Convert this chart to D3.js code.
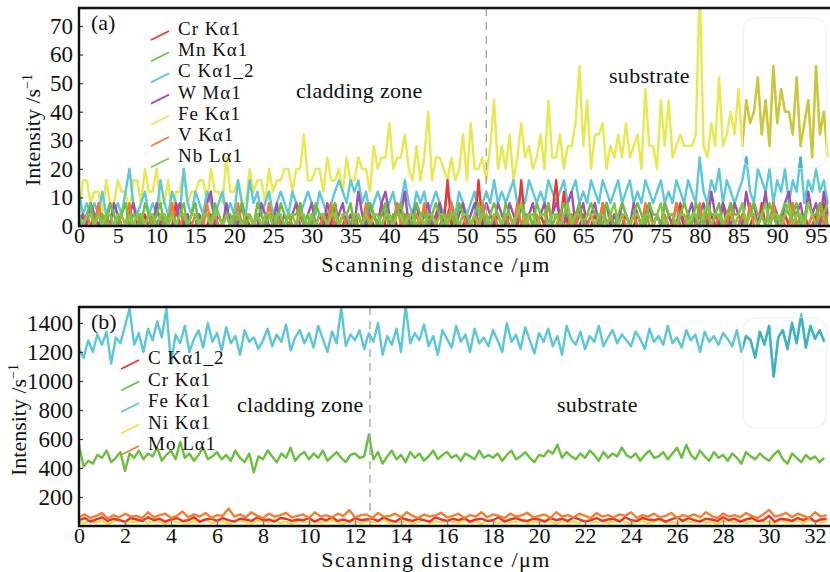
<!DOCTYPE html>
<html>
<head>
<meta charset="utf-8">
<script src="https://cdn.jsdelivr.net/npm/d3@7"></script>
<style>
  body { margin: 0; background: #fff; }
  text { font-family: "Liberation Serif", "DejaVu Serif", serif; fill: #111; }
</style>
</head>
<body>
<svg id="chart" width="830" height="572"></svg>
<script>

/* DATA - panel (a), one value every 0.5 um from 0 */
const feA = [
  4, 16, 16, 8, 12, 12, 4, 16, 8, 8,
  16, 12, 12, 4, 16, 16, 8, 20, 12, 12,
  20, 8, 8, 16, 4, 12, 12, 20, 8, 12,
  12, 16, 16, 8, 20, 12, 12, 8, 24, 12,
  12, 16, 8, 8, 20, 12, 16, 16, 8, 20,
  12, 16, 16, 20, 20, 12, 20, 20, 32, 16,
  16, 20, 20, 12, 24, 16, 16, 20, 12, 24,
  16, 16, 24, 20, 20, 12, 28, 20, 24, 24,
  36, 20, 24, 24, 32, 20, 16, 28, 16, 24,
  40, 16, 24, 24, 20, 16, 24, 16, 20, 32,
  16, 36, 20, 20, 24, 16, 28, 44, 20, 28,
  20, 32, 16, 24, 36, 24, 28, 20, 24, 32,
  20, 44, 24, 24, 32, 20, 28, 28, 36, 56,
  28, 44, 20, 32, 32, 36, 20, 28, 24, 32,
  24, 36, 24, 28, 32, 20, 48, 28, 28, 20,
  44, 28, 44, 24, 28, 32, 28, 28, 28, 32,
  84, 28, 24, 36, 28, 52, 28, 32, 40, 32,
  48, 28, 44, 36, 40, 52, 32, 44, 28, 56,
  36, 48, 40, 40, 32, 52, 28, 36, 44, 24,
  56, 32, 40, 24
];
const cA = [
  12, 4, 8, 4, 8, 4, 12, 4, 8, 4,
  8, 4, 12, 20, 8, 4, 8, 12, 4, 8,
  4, 16, 8, 4, 12, 8, 4, 20, 8, 4,
  12, 8, 4, 12, 8, 4, 8, 12, 4, 8,
  4, 16, 8, 4, 16, 8, 12, 4, 8, 12,
  4, 8, 12, 8, 4, 12, 8, 4, 8, 12,
  8, 4, 12, 8, 4, 8, 12, 16, 12, 8,
  16, 12, 16, 8, 12, 4, 8, 12, 8, 4,
  8, 12, 4, 8, 16, 8, 4, 12, 8, 12,
  4, 8, 12, 8, 4, 12, 8, 4, 12, 8,
  4, 8, 12, 4, 8, 12, 8, 16, 8, 12,
  8, 12, 16, 8, 12, 8, 16, 12, 8, 12,
  8, 16, 12, 8, 12, 16, 8, 12, 16, 8,
  12, 8, 16, 12, 8, 16, 12, 8, 12, 16,
  8, 12, 16, 8, 12, 8, 16, 12, 8, 12,
  16, 8, 12, 8, 16, 12, 8, 16, 12, 8,
  24, 12, 8, 16, 12, 20, 8, 16, 12, 8,
  12, 16, 24, 12, 8, 20, 16, 12, 20, 8,
  16, 12, 20, 8, 16, 12, 24, 8, 16, 12,
  20, 12, 16, 8
];
const crA = [
  0, 4, 0, 0, 4, 0, 0, 4, 0, 0,
  4, 0, 0, 4, 0, 0, 0, 4, 0, 4,
  0, 0, 4, 0, 0, 8, 0, 0, 4, 0,
  0, 4, 0, 0, 4, 0, 0, 0, 4, 0,
  4, 0, 0, 4, 0, 0, 4, 0, 0, 0,
  0, 4, 0, 0, 4, 0, 0, 4, 0, 0,
  4, 0, 0, 0, 4, 0, 8, 0, 0, 4,
  0, 0, 4, 0, 0, 4, 0, 0, 8, 0,
  0, 4, 0, 0, 4, 0, 0, 4, 0, 0,
  4, 0, 0, 8, 0, 16, 0, 4, 0, 0,
  4, 0, 0, 16, 0, 4, 0, 0, 4, 0,
  0, 4, 0, 0, 16, 0, 4, 0, 0, 4,
  0, 0, 4, 16, 0, 12, 0, 4, 0, 0,
  4, 0, 0, 4, 0, 8, 0, 0, 4, 0,
  0, 4, 0, 0, 4, 0, 0, 8, 0, 4,
  0, 0, 4, 0, 0, 8, 0, 4, 0, 0,
  4, 0, 0, 4, 0, 0, 8, 0, 4, 0,
  0, 4, 0, 0, 4, 0, 8, 0, 0, 4,
  0, 0, 4, 0, 8, 0, 0, 4, 0, 0,
  4, 0, 8, 0
];
const mnA = [
  4, 0, 4, 8, 0, 4, 4, 0, 8, 4,
  0, 4, 8, 0, 4, 4, 0, 8, 4, 0,
  4, 8, 0, 4, 4, 0, 4, 8, 0, 4,
  8, 0, 4, 4, 0, 8, 4, 0, 4, 4,
  0, 4, 8, 0, 4, 0, 8, 4, 0, 4,
  4, 0, 8, 4, 0, 4, 4, 8, 0, 4,
  0, 8, 4, 4, 0, 4, 8, 0, 4, 4,
  8, 0, 4, 0, 4, 8, 4, 0, 4, 8,
  0, 4, 4, 8, 0, 4, 0, 8, 4, 4,
  0, 4, 8, 4, 0, 4, 4, 0, 8, 4,
  4, 0, 4, 8, 4, 0, 4, 8, 4, 0,
  8, 4, 0, 4, 8, 4, 4, 0, 8, 4,
  4, 8, 0, 4, 4, 8, 4, 0, 4, 8,
  0, 4, 8, 4, 4, 0, 8, 4, 0, 4,
  8, 4, 0, 4, 8, 4, 0, 8, 4, 4,
  0, 8, 4, 4, 0, 4, 8, 4, 0, 8,
  4, 0, 8, 4, 4, 8, 0, 4, 8, 4,
  4, 8, 0, 4, 8, 4, 4, 0, 8, 4,
  0, 4, 8, 4, 4, 8, 0, 4, 8, 4,
  4, 8, 4, 0
];
const wA = [
  0, 4, 0, 8, 4, 0, 4, 0, 0, 8,
  4, 0, 0, 4, 8, 0, 4, 0, 4, 0,
  8, 0, 4, 0, 0, 4, 8, 0, 4, 0,
  0, 4, 0, 8, 12, 0, 4, 0, 8, 0,
  4, 0, 8, 0, 4, 0, 0, 8, 4, 0,
  0, 8, 0, 4, 0, 4, 8, 0, 0, 4,
  8, 0, 4, 0, 8, 4, 0, 4, 8, 0,
  4, 0, 12, 4, 0, 8, 4, 0, 8, 12,
  4, 0, 8, 4, 12, 0, 4, 8, 0, 4,
  8, 0, 4, 8, 0, 4, 8, 0, 4, 8,
  0, 4, 8, 0, 4, 8, 4, 0, 8, 4,
  0, 8, 4, 0, 8, 0, 4, 8, 0, 4,
  8, 0, 4, 8, 4, 0, 8, 12, 0, 4,
  8, 0, 4, 8, 0, 4, 8, 0, 4, 0,
  8, 4, 0, 8, 4, 0, 4, 8, 0, 4,
  0, 8, 4, 0, 8, 4, 0, 4, 8, 0,
  4, 8, 0, 12, 4, 0, 8, 4, 0, 8,
  4, 0, 12, 4, 8, 0, 4, 12, 0, 8,
  4, 0, 8, 12, 0, 4, 8, 0, 12, 4,
  8, 0, 12, 4
];
const vA = [
  0, 0, 4, 0, 0, 8, 0, 4, 0, 0,
  4, 0, 0, 8, 0, 0, 4, 0, 0, 4,
  0, 4, 0, 0, 8, 0, 0, 4, 0, 0,
  4, 0, 0, 8, 0, 4, 0, 0, 4, 0,
  0, 8, 0, 0, 4, 0, 4, 0, 0, 8,
  0, 4, 0, 0, 4, 0, 0, 8, 0, 0,
  4, 0, 0, 4, 0, 8, 0, 0, 4, 0,
  0, 4, 0, 0, 8, 0, 4, 0, 0, 4,
  0, 0, 8, 0, 4, 0, 0, 4, 0, 8,
  0, 4, 0, 0, 4, 0, 8, 0, 0, 4,
  0, 0, 4, 0, 8, 0, 0, 4, 0, 0,
  4, 0, 0, 8, 0, 4, 0, 0, 4, 0,
  0, 8, 0, 0, 4, 0, 0, 4, 0, 8,
  0, 0, 4, 0, 0, 8, 0, 4, 0, 0,
  4, 0, 0, 4, 0, 0, 8, 0, 0, 4,
  0, 4, 0, 0, 8, 0, 0, 4, 0, 0,
  8, 0, 4, 0, 0, 4, 0, 0, 8, 0,
  0, 4, 0, 8, 0, 0, 4, 0, 0, 8,
  0, 4, 0, 0, 8, 0, 4, 0, 0, 4,
  0, 8, 0, 4
];
const nbA = [
  4, 0, 4, 4, 0, 4, 0, 4, 4, 0,
  4, 4, 0, 4, 0, 4, 4, 0, 4, 4,
  0, 4, 4, 0, 4, 0, 4, 4, 0, 4,
  4, 0, 4, 4, 0, 4, 4, 0, 4, 0,
  4, 4, 0, 4, 4, 0, 4, 0, 4, 4,
  0, 4, 4, 0, 4, 4, 0, 4, 4, 0,
  4, 0, 4, 4, 0, 4, 4, 0, 4, 4,
  0, 4, 4, 0, 4, 0, 4, 4, 0, 4,
  4, 0, 4, 4, 0, 4, 4, 0, 4, 0,
  4, 4, 0, 4, 4, 0, 4, 4, 0, 4,
  4, 0, 4, 0, 4, 4, 0, 4, 4, 0,
  4, 4, 0, 4, 8, 0, 4, 4, 0, 4,
  4, 0, 4, 4, 0, 4, 8, 0, 4, 4,
  0, 4, 4, 0, 4, 4, 0, 4, 8, 0,
  4, 4, 0, 4, 4, 0, 4, 4, 0, 4,
  8, 0, 4, 4, 0, 4, 4, 0, 4, 4,
  0, 4, 8, 0, 4, 4, 0, 4, 4, 0,
  4, 8, 0, 4, 4, 0, 4, 8, 0, 4,
  4, 0, 4, 8, 0, 4, 4, 0, 8, 4,
  0, 4, 4, 8
];

/* DATA - panel (b), Fe and Cr every 0.2 um, the minor lines every 0.25 um */
const feB = [
  1220, 1160, 1280, 1200, 1320, 1250, 1340, 1120, 1300, 1260,
  1380, 1500, 1250, 1330, 1200, 1360, 1280, 1410, 1300, 1500,
  1120, 1320, 1260, 1380, 1200, 1290, 1350, 1230, 1400, 1270,
  1330, 1210, 1370, 1260, 1310, 1180, 1350, 1270, 1300, 1220,
  1280, 1360, 1240, 1320, 1270, 1390, 1210, 1300, 1350, 1260,
  1330, 1230, 1380, 1290, 1200, 1340, 1260, 1500, 1240, 1320,
  1280, 1350, 1220, 1330, 1270, 1400, 1180, 1310, 1250, 1360,
  1200, 1520, 1260, 1330, 1280, 1390, 1240, 1310, 1180, 1350,
  1290, 1230, 1380, 1270, 1320, 1200, 1360, 1260, 1300, 1240,
  1350, 1280, 1200, 1400, 1270, 1320, 1220, 1370, 1280, 1190,
  1330, 1270, 1360, 1240, 1310, 1180, 1380, 1290, 1250, 1340,
  1220, 1310, 1270, 1380, 1240, 1300, 1350, 1260, 1320, 1280,
  1240, 1340, 1290, 1220, 1360, 1270, 1310, 1250, 1380, 1260,
  1300, 1230, 1350, 1280, 1320, 1200, 1340, 1270, 1310, 1250,
  1330, 1290, 1240, 1350, 1200, 1310, 1280, 1160, 1340, 1250,
  1380, 1030, 1300, 1350, 1220, 1400, 1260, 1460, 1230, 1380,
  1290, 1350, 1270
];
const crB = [
  560, 410, 450, 430, 490, 470, 520, 440, 470, 510,
  380, 500, 470, 520, 460, 500, 480, 540, 450, 490,
  520, 460, 580, 470, 500, 450, 490, 540, 460, 480,
  510, 460, 490, 450, 520, 470, 440, 500, 370, 480,
  460, 520, 480, 440, 500, 470, 540, 450, 490, 510,
  460, 500, 470, 520, 450, 480, 510, 470, 440, 490,
  500, 470, 480, 630, 460, 510, 430, 480, 520, 460,
  490, 440, 510, 470, 500, 450, 480, 520, 460, 490,
  510, 470, 490, 450, 500, 480, 460, 520, 470, 490,
  470, 500, 450, 490, 520, 460, 480, 510, 470, 440,
  490, 480, 520, 500, 560, 470, 510, 480, 460, 500,
  470, 520, 490, 450, 510, 470, 500, 480, 540, 490,
  470, 500, 450, 490, 520, 470, 480, 510, 460, 500,
  540, 470, 560, 490, 460, 520, 480, 450, 510, 470,
  490, 450, 500, 470, 430, 510, 480, 460, 500, 470,
  450, 490, 520, 460, 430, 500, 470, 440, 490, 460,
  480, 440, 470
];
const moB = [
  60, 80, 55, 70, 90, 50, 75, 60, 85, 65,
  70, 55, 95, 60, 75, 85, 55, 70, 100, 60,
  80, 65, 90, 55, 75, 70, 120, 65, 80, 60,
  95, 70, 55, 85, 65, 75, 90, 60, 70, 80,
  55, 95, 65, 75, 60, 85, 70, 110, 60, 75,
  80, 55, 90, 65, 70, 85, 60, 95, 70, 55,
  80, 65, 75, 90, 60, 70, 85, 55, 75, 65,
  95, 60, 80, 70, 55, 85, 65, 75, 90, 60,
  70, 80, 55, 95, 65, 75, 60, 85, 70, 55,
  90, 65, 75, 60, 80, 70, 95, 55, 75, 65,
  85, 60, 70, 90, 55, 75, 65, 80, 60, 95,
  70, 55, 85, 65, 75, 60, 90, 70, 55, 80,
  110, 65, 75, 90, 60, 85, 70, 55, 95, 65,
  75
];
const cB = [
  40, 55, 30, 45, 60, 35, 50, 40, 30, 55,
  45, 35, 60, 40, 50, 30, 45, 55, 35, 40,
  60, 30, 45, 50, 35, 55, 40, 30, 50, 45,
  35, 60, 40, 45, 30, 55, 50, 35, 45, 40,
  55, 30, 50, 40, 60, 35, 45, 30, 55, 40,
  45, 50, 35, 60, 40, 30, 55, 45, 35, 50,
  40, 30, 60, 45, 35, 50, 40, 55, 30, 45,
  50, 35, 40, 60, 30, 45, 55, 40, 35, 50,
  45, 30, 55, 40, 50, 35, 60, 45, 30, 40,
  55, 35, 45, 50, 30, 60, 40, 35, 55, 45,
  40, 50, 30, 45, 60, 35, 55, 40, 30, 50,
  45, 35, 60, 40, 50, 30, 45, 55, 35, 40,
  70, 30, 50, 45, 35, 55, 40, 60, 30, 45,
  50
];
const niB = [
  30, 20, 40, 25, 35, 15, 30, 45, 20, 30,
  25, 40, 20, 35, 30, 15, 40, 25, 30, 20,
  35, 25, 45, 20, 30, 35, 15, 30, 40, 25,
  20, 35, 30, 25, 45, 20, 30, 15, 35, 30,
  25, 40, 20, 30, 35, 25, 15, 40, 30, 20,
  35, 25, 30, 45, 20, 30, 25, 35, 15, 30,
  40, 20, 30, 25, 35, 30, 20, 45, 25, 30,
  15, 35, 30, 20, 40, 25, 30, 35, 20, 30,
  25, 45, 30, 15, 35, 25, 30, 20, 40, 30,
  25, 35, 20, 30, 45, 25, 15, 30, 35, 20,
  30, 40, 25, 30, 20, 35, 30, 25, 45, 20,
  30, 15, 35, 30, 25, 40, 20, 30, 35, 25,
  30, 20, 40, 25, 30, 35, 20, 45, 30, 25,
  30
];

// tick values
const xTicksA = d3.range(0, 96, 5);
const yTicksA = [0, 10, 20, 30, 40, 50, 60, 70];
const xTicksB = d3.range(0, 33, 2);
const yTicksB = [200, 400, 600, 800, 1000, 1200, 1400];

// x positions for each series
const xsA = feA.map((d, i) => i * 0.5);
const xsB = feB.map((d, i) => i * 0.2);
const xsBminor = moB.map((d, i) => i * 0.25);

const svg = d3.select("#chart");
const LEFT = 79, RIGHT = 830;
const SERIF = '"Liberation Serif", serif';

function drawPanel(p) {

    const x = d3.scaleLinear().domain(p.xDomain).range([LEFT, RIGHT]);
    const y = d3.scaleLinear().domain(p.yDomain).range([p.bottom, p.top]);
    const g = svg.append("g");

    // clip paths for plot area and the pale box
    const defs = g.append("defs");
    defs.append("clipPath").attr("id", p.id + "-clip")
        .append("rect")
        .attr("x", LEFT).attr("y", p.top)
        .attr("width", RIGHT - LEFT).attr("height", p.bottom - p.top);
    defs.append("clipPath").attr("id", p.id + "-box")
        .append("rect")
        .attr("x", p.box[0]).attr("y", p.box[1])
        .attr("width", p.box[2]).attr("height", p.box[3])
        .attr("rx", 12);

    const line = s => d3.line()
        .x((d, i) => x(s.xs[i]))
        .y(d => y(d));

    // LINES
    const lines = g.append("g").attr("clip-path", `url(#${p.id}-clip)`);
    p.drawOrder.forEach(s => {
        lines.append("path")
            .datum(s.values)
            .attr("d", line(s))
            .attr("fill", "none")
            .attr("stroke", s.color)
            .attr("stroke-width", 2.4)
            .attr("stroke-linejoin", "round");
    });

    // pale box (lines look darker behind it)
    g.append("rect")
        .attr("x", p.box[0]).attr("y", p.box[1])
        .attr("width", p.box[2]).attr("height", p.box[3])
        .attr("rx", 12)
        .attr("fill", "#fff").attr("fill-opacity", 0.25)
        .attr("stroke", "#f1f1f1").attr("stroke-width", 1.2);

    const boxLines = g.append("g").attr("clip-path", `url(#${p.id}-box)`);
    p.drawOrder.filter(s => s.dark).forEach(s => {
        boxLines.append("path")
            .datum(s.values)
            .attr("d", line(s))
            .attr("fill", "none")
            .attr("stroke", s.dark)
            .attr("stroke-width", 2.4)
            .attr("stroke-linejoin", "round");
    });

    // zone boundary
    g.append("line")
        .attr("x1", x(p.boundary)).attr("x2", x(p.boundary))
        .attr("y1", p.top).attr("y2", p.bottom)
        .attr("stroke", "#a8a8a8")
        .attr("stroke-width", 1.4)
        .attr("stroke-dasharray", "8,6");

    // AXES
    const xAxis = g.append("g")
        .attr("transform", `translate(0, ${p.bottom})`)
        .call(d3.axisBottom(x).tickValues(p.xTicks).tickSize(-6).tickPadding(1));
    xAxis.select(".domain").remove();
    xAxis.selectAll("line").attr("stroke", "#888").attr("stroke-width", 1.5);
    xAxis.selectAll("text").style("font-size", "22px").attr("fill", "#111")
        .style("font-family", SERIF);

    const yAxis = g.append("g")
        .attr("transform", `translate(${LEFT}, 0)`)
        .call(d3.axisLeft(y).tickValues(p.yTicks).tickFormat(d3.format("d"))
            .tickSize(-4).tickPadding(6));
    yAxis.select(".domain").remove();
    yAxis.selectAll("line").attr("stroke", "#333").attr("stroke-width", 1.2);
    yAxis.selectAll("text").style("font-size", "23px").attr("fill", "#111")
        .style("font-family", SERIF);

    // frame
    g.append("path")
        .attr("d", `M${RIGHT + 5},${p.top}H${LEFT}V${p.bottom}H${RIGHT + 5}`)
        .attr("fill", "none")
        .attr("stroke", "#111")
        .attr("stroke-width", 2.4);

    // AXIS LABELS
    g.append("text")
        .attr("x", 436).attr("y", p.xTitleY)
        .attr("text-anchor", "middle")
        .style("font-size", "22px")
        .style("letter-spacing", "1.4px")
        .text("Scanning distance /\u03bcm");

    const yl = g.append("text")
        .attr("transform", `translate(${p.yTitleX}, ${p.yLabelMid}) rotate(-90)`)
        .attr("text-anchor", "middle")
        .style("font-size", "22px");
    yl.append("tspan").text("Intensity /s");
    yl.append("tspan").attr("dy", -8).style("font-size", "14px").text("\u22121");

    // panel tag and zone names
    g.append("text").attr("x", 91).attr("y", p.top + 22)
        .style("font-size", "22px").text(p.tag);
    p.notes.forEach(n => {
        g.append("text").attr("x", n[0]).attr("y", n[1])
            .style("font-size", "22px")
            .style("letter-spacing", "0.3px")
            .text(n[2]);
    });

    // LEGEND
    p.legend.forEach((s, i) => {
        const by = p.legendY + i * p.legendStep;
        g.append("line")
            .attr("x1", p.legendX - 27).attr("y1", by + 5)
            .attr("x2", p.legendX - 9).attr("y2", by - 4)
            .attr("stroke", s.color).attr("stroke-width", 1.8);
        g.append("text")
            .attr("x", p.legendX).attr("y", by)
            .style("font-size", "19px")
            .style("letter-spacing", "1px")
            .text(s.name);
    });
}

// PANEL (a)
const crSa = {name: "Cr K\u03b11", color: "#ee3535", values: crA, xs: xsA};
const mnSa = {name: "Mn K\u03b11", color: "#6cbf3c", values: mnA, xs: xsA};
const cSa = {name: "C K\u03b11_2", color: "#5cc8d8", values: cA, xs: xsA, dark: "#46b4c4"};
const wSa = {name: "W M\u03b11", color: "#a24fb4", values: wA, xs: xsA};
const feSa = {name: "Fe K\u03b11", color: "#e8e850", values: feA, xs: xsA, dark: "#cbc63e"};
const vSa = {name: "V K\u03b11", color: "#f27a2e", values: vA, xs: xsA};
const nbSa = {name: "Nb L\u03b11", color: "#84c845", values: nbA, xs: xsA};

drawPanel({
    id: "pa",
    top: 8, bottom: 226,
    xDomain: [0, 96.8], yDomain: [0, 76.3],
    xTicks: xTicksA, yTicks: yTicksA,
    boundary: 52.5,
    box: [743, 18, 83, 150],
    yLabelMid: 130, yTitleX: 40,
    xTitleY: 272,
    tag: "(a)",
    notes: [[296, 98, "cladding zone"], [609, 83, "substrate"]],
    legend: [crSa, mnSa, cSa, wSa, feSa, vSa, nbSa],
    legendX: 178, legendY: 35, legendStep: 21.2,
    drawOrder: [feSa, cSa, crSa, wSa, vSa, mnSa, nbSa]
});

// PANEL (b)
const cSb = {name: "C K\u03b11_2", color: "#ee3030", values: cB, xs: xsBminor};
const crSb = {name: "Cr K\u03b11", color: "#6abf3e", values: crB, xs: xsB};
const feSb = {name: "Fe K\u03b11", color: "#5cc6d6", values: feB, xs: xsB, dark: "#3fb2c0"};
const niSb = {name: "Ni K\u03b11", color: "#ece445", values: niB, xs: xsBminor};
const moSb = {name: "Mo L\u03b11", color: "#f27f30", values: moB, xs: xsBminor};

drawPanel({
    id: "pb",
    top: 307, bottom: 526,
    xDomain: [0, 32.65], yDomain: [0, 1510],
    xTicks: xTicksB, yTicks: yTicksB,
    boundary: 12.65,
    box: [743, 318, 83, 110],
    yLabelMid: 420, yTitleX: 26,
    xTitleY: 567,
    tag: "(b)",
    notes: [[237, 412, "cladding zone"], [557, 412, "substrate"]],
    legend: [cSb, crSb, feSb, niSb, moSb],
    legendX: 148, legendY: 364, legendStep: 21.5,
    drawOrder: [niSb, cSb, moSb, crSb, feSb]
});

</script>
</body>
</html>
